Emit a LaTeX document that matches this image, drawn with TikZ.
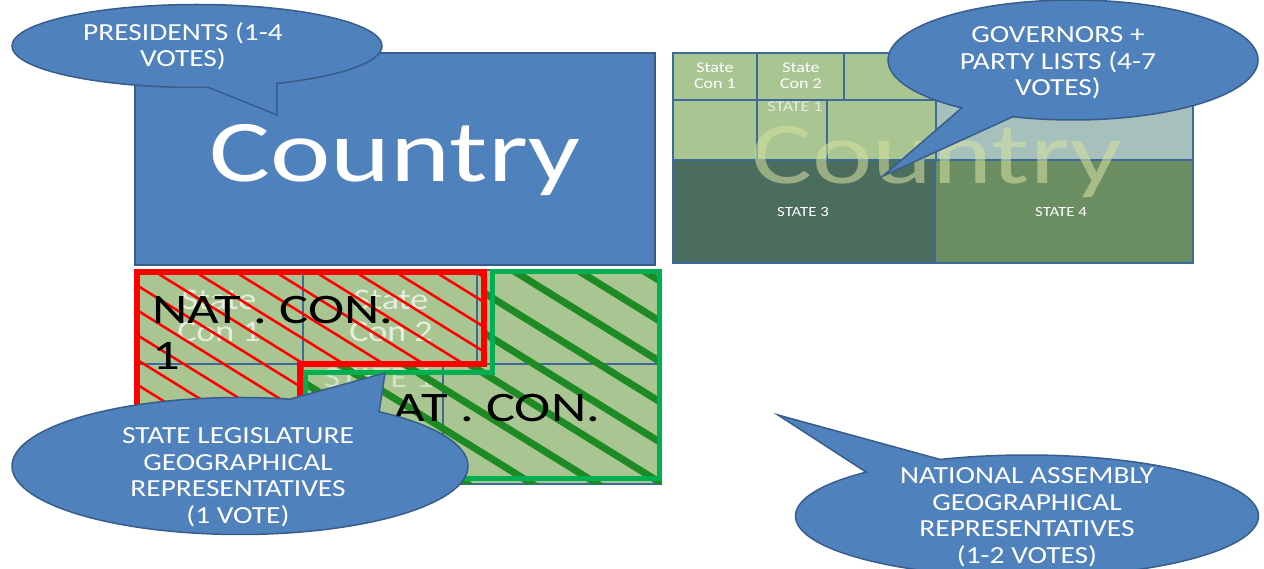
\documentclass[tikz,border=0pt]{standalone}
\usepackage{fontspec}
\setmainfont{Carlito}
\newfontfamily\widefont[FakeStretch=1.2]{Carlito}
\newfontfamily\hugefont[FakeStretch=1.3]{Carlito}
\usetikzlibrary{shapes.callouts,shapes.geometric}
\definecolor{calloutblue}{HTML}{4F81BD}
\definecolor{calloutline}{HTML}{385D8A}
\definecolor{cellgreen}{HTML}{A9C592}
\definecolor{cellline}{HTML}{3E6A9A}
\definecolor{topteal}{HTML}{A6C0BB}
\definecolor{statethree}{HTML}{4B6D5D}
\definecolor{statefour}{HTML}{6B8D62}
\definecolor{fadedtext}{HTML}{D8E3A0}
\definecolor{hatchgreen}{HTML}{1E8A24}
\definecolor{conborder}{HTML}{00B050}
\tikzset{
  bubble/.style={ellipse callout, draw=calloutline, line width=1.5pt, fill=calloutblue, inner sep=0pt},
  bubbletext/.style={text=white, align=center, font=\widefont\fontsize{24.5}{26.5}\selectfont},
  region/.style={draw=cellline, line width=2pt},
  cell/.style={draw=cellline, line width=2pt, fill=cellgreen},
  celltext/.style={text=white, align=center, font=\widefont\fontsize{15}{16}\selectfont},
  statetext/.style={text=white, font=\widefont\fontsize{14}{16}\selectfont},
  redhatch/.style={draw=red, line width=2.5pt},
  greenhatch/.style={draw=hatchgreen, line width=7pt, line cap=round},
  context/.style={text=black, align=left, font=\hugefont\fontsize{42}{46}\selectfont}
}
% constituency grid of one state, drawn in local pixels
\newcommand{\congrid}[1]{%
  \draw[cell] (0,0) rectangle (84,47);
  \draw[cell] (84,0) rectangle (171,47);
  \draw[cell] (171,0) rectangle (263,47);
  \draw[cell] (0,47) rectangle (84,107);
  \draw[cell] (84,47) rectangle (154,107);
  \draw[cell] (154,47) rectangle (263,107);
  \node[celltext, opacity=#1] (con1) at (42,23) {State\\Con 1};
  \node[celltext, opacity=#1] (con2) at (128,23) {State\\Con 2};
  \node[celltext, opacity=0.7*#1] (state1) at (122,54) {STATE 1};
}

\begin{document}
\begin{tikzpicture}[x=1pt, y=-1pt]
  \useasboundingbox (0,0) rectangle (1264,569);

  % country
  \draw[draw=calloutline, line width=2pt, fill=calloutblue] (135,53) rectangle (655,265);
  \node[text=white, font=\hugefont\fontsize{88}{90}\selectfont] (country) at (395,160) {Country};

  % states
  \draw[region, fill=topteal] (673,53) rectangle (1193,160);
  \draw[region, fill=statethree] (673,160) rectangle (935,263);
  \draw[region, fill=statefour] (935,160) rectangle (1193,263);
  \node[statetext] (state3) at (803,212) {STATE 3};
  \node[statetext] (state4) at (1061,212) {STATE 4};
  \begin{scope}[shift={(673,53)}]
    \congrid{1}
  \end{scope}
  \node[text=fadedtext, opacity=0.55, font=\hugefont\fontsize{88}{90}\selectfont] (country2) at (937,162) {Country};

  % national constituencies
  \begin{scope}[shift={(135,270)}, scale=2, transform shape]
    \congrid{0.7}
  \end{scope}
  \begin{scope}
    \clip (135,270) -- (487,270) -- (487,364) -- (303,364) -- (303,484) -- (135,484) -- cycle;
    \foreach \s in {-440,-400,...,480}
      \draw[redhatch] (\s,250) -- ++(500,310);
  \end{scope}
  \begin{scope}
    \clip (487,270) -- (661,270) -- (661,484) -- (303,484) -- (303,364) -- (487,364) -- cycle;
    \foreach \s in {-40,25,...,700}
      \draw[greenhatch] (\s,250) -- ++(500,310);
  \end{scope}
  \draw[red, line width=6pt] (137,272) -- (484,272) -- (484,364) -- (300,364) -- (300,482) -- (137,482) -- cycle;
  \draw[conborder, line width=5pt] (492,272) -- (659,272) -- (659,478) -- (305,478) -- (305,372) -- (492,372) -- cycle;
  \node[context, anchor=north west, inner sep=0pt] (nat1) at (152,296) {NAT . CON.\\1};
  \node[context, inner sep=0pt] (nat2) at (497,408) {AT . CON.};

  % callouts
  \node[bubble, minimum width=370pt, minimum height=83pt, callout pointer arc=22,
    callout absolute pointer={(277,115)}] (presidents) at (197,46) {};
  \node[bubbletext] at (183,46) {PRESIDENTS (1-4\\VOTES)};
  \node[bubble, minimum width=370pt, minimum height=120pt, callout pointer arc=18,
    callout absolute pointer={(883,176)}] (governors) at (1073,60) {};
  \node[bubbletext] at (1058,63) {GOVERNORS +\\PARTY LISTS (4-7\\VOTES)};
  \node[bubble, minimum width=456pt, minimum height=137pt, callout pointer arc=25,
    callout absolute pointer={(385,373)}] (legislature) at (240,466) {};
  \node[bubbletext] at (238,477) {STATE LEGISLATURE\\GEOGRAPHICAL\\REPRESENTATIVES\\(1 VOTE)};
  \node[bubble, minimum width=463pt, minimum height=122pt, callout pointer arc=22,
    callout absolute pointer={(778,415)}] (assembly) at (1027,516) {};
  \node[bubbletext] at (1027,517) {NATIONAL ASSEMBLY\\GEOGRAPHICAL\\REPRESENTATIVES\\(1-2 VOTES)};
\end{tikzpicture}
\end{document}
